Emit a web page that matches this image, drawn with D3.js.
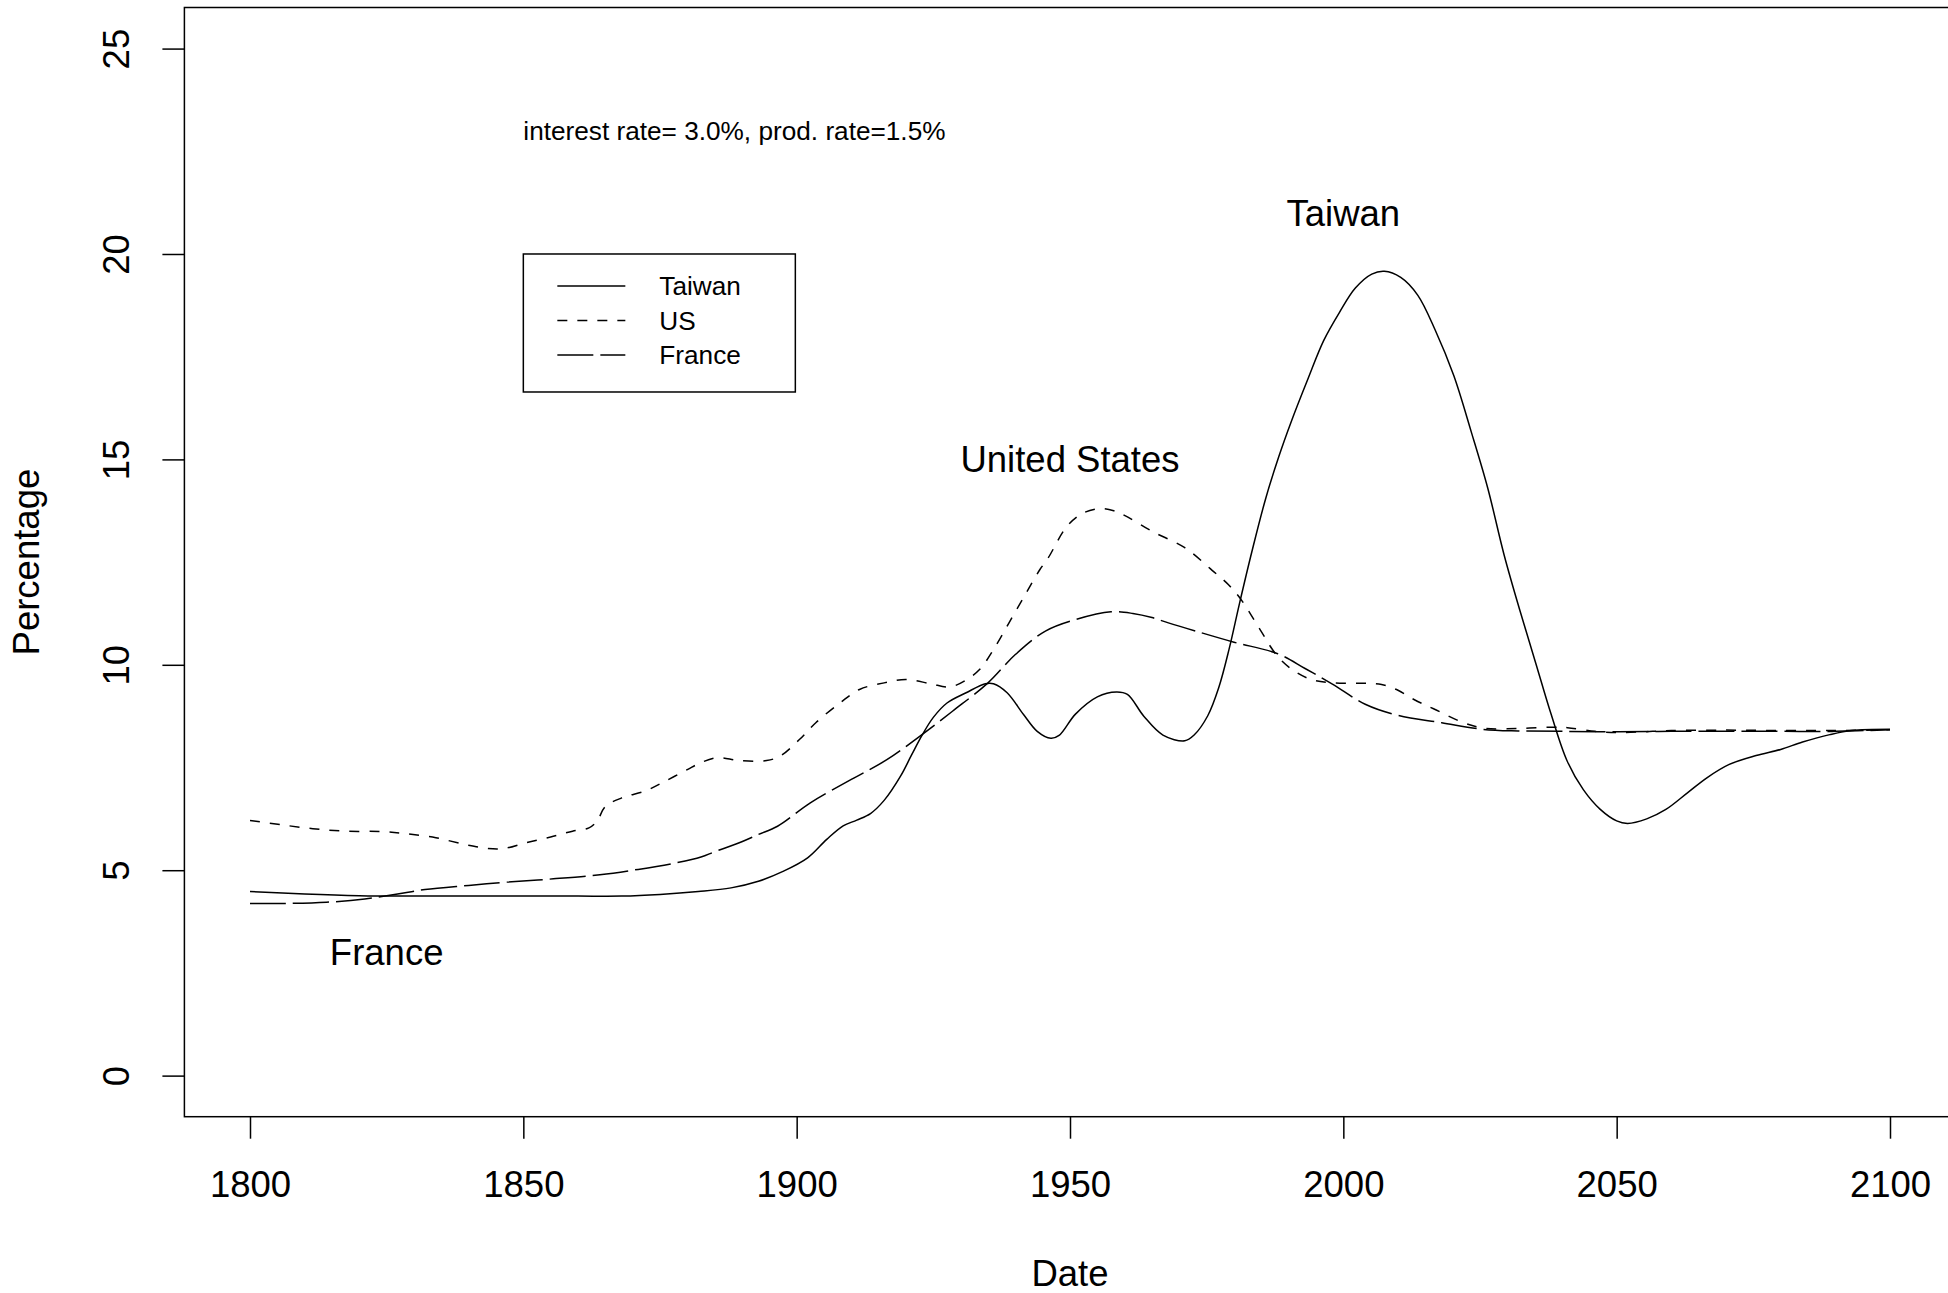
<!DOCTYPE html>
<html>
<head>
<meta charset="utf-8">
<script src="https://cdn.jsdelivr.net/npm/d3@7"></script>
<style>
  body { margin: 0; background: #fff; }
  svg text { font-family: "Liberation Sans", Arial, Helvetica, sans-serif; fill: #000; }
</style>
</head>
<body>
<div id="chart"></div>
<script>
// values
var taiwanYears = [1800, 1810, 1820, 1830, 1840, 1850, 1860, 1868, 1875, 1882, 1888, 1893, 1897.5, 1902, 1905.5, 1908.5, 1911, 1913.5, 1916, 1919, 1921, 1923, 1925, 1927.5, 1931, 1934.5, 1936, 1938.5, 1941.5, 1944, 1946.5, 1948, 1951, 1955, 1958.5, 1960.5, 1963.5, 1967, 1971, 1972.7, 1975.2, 1977.2, 1979.1, 1981, 1983.3, 1985.8, 1988.2, 1990.5, 1993.5, 1996.4, 1999.3, 2002.2, 2005.2, 2007.5, 2010.5, 2013.6, 2016.8, 2020.2, 2023.4, 2026.4, 2029.4, 2032.3, 2035.2, 2038, 2040.9, 2043.9, 2047, 2050, 2052, 2055.5, 2059, 2063, 2066.5, 2070.5, 2075.5, 2080, 2084, 2089, 2093, 2100];
var taiwanVals = [4.48, 4.42, 4.38, 4.37, 4.37, 4.37, 4.37, 4.37, 4.41, 4.48, 4.57, 4.73, 4.97, 5.30, 5.75, 6.08, 6.22, 6.38, 6.70, 7.29, 7.80, 8.30, 8.72, 9.07, 9.32, 9.54, 9.54, 9.32, 8.79, 8.38, 8.21, 8.28, 8.80, 9.22, 9.34, 9.28, 8.75, 8.29, 8.15, 8.29, 8.76, 9.44, 10.38, 11.49, 12.77, 14.05, 15.07, 15.93, 16.95, 17.89, 18.58, 19.17, 19.51, 19.58, 19.43, 19.0, 18.15, 17.04, 15.67, 14.31, 12.68, 11.32, 10.04, 8.80, 7.67, 6.96, 6.48, 6.20, 6.14, 6.25, 6.48, 6.89, 7.25, 7.57, 7.79, 7.94, 8.12, 8.30, 8.40, 8.43];

var usYears = [1800, 1805.5, 1811.5, 1817.5, 1824, 1828.5, 1834, 1839.5, 1843.5, 1846.5, 1850.5, 1855, 1859, 1862, 1863.5, 1865, 1868, 1872.5, 1876, 1880, 1882.5, 1885.5, 1889.5, 1894.5, 1897, 1900.5, 1903.5, 1908, 1911.5, 1916, 1920, 1924.5, 1928, 1931, 1933.5, 1936, 1939, 1942, 1944.5, 1946, 1949.5, 1952.5, 1955.5, 1958, 1960.5, 1965, 1971, 1976, 1979, 1981.5, 1984.8, 1988, 1991, 1994, 1998, 2004, 2007, 2010, 2013, 2016.5, 2022, 2026, 2032, 2038, 2041, 2046, 2050, 2055, 2060, 2070, 2080, 2090, 2100];
var usVals = [6.21, 6.11, 6.01, 5.95, 5.94, 5.89, 5.79, 5.62, 5.53, 5.53, 5.67, 5.81, 5.95, 6.03, 6.20, 6.55, 6.76, 6.94, 7.17, 7.45, 7.62, 7.74, 7.67, 7.67, 7.78, 8.18, 8.59, 9.08, 9.40, 9.56, 9.64, 9.54, 9.46, 9.63, 9.89, 10.37, 11.06, 11.75, 12.32, 12.60, 13.38, 13.70, 13.80, 13.75, 13.60, 13.25, 12.85, 12.30, 11.95, 11.55, 10.85, 10.20, 9.85, 9.65, 9.56, 9.55, 9.52, 9.38, 9.15, 8.93, 8.59, 8.45, 8.45, 8.48, 8.47, 8.38, 8.35, 8.37, 8.40, 8.41, 8.40, 8.40, 8.42];

var franceYears = [1800, 1806, 1814, 1821, 1827, 1832, 1840, 1847, 1855.5, 1864, 1871, 1878, 1882.5, 1885, 1889.5, 1893, 1896.5, 1902.5, 1910, 1916.5, 1922.5, 1928.5, 1935, 1940, 1945.5, 1951, 1957.5, 1961.5, 1965, 1968, 1973, 1980, 1988, 1993, 1998, 2004, 2010, 2018, 2025.5, 2032, 2040, 2050, 2060, 2070, 2080, 2090, 2100];
var franceVals = [4.19, 4.19, 4.22, 4.30, 4.42, 4.53, 4.63, 4.71, 4.79, 4.89, 5.02, 5.18, 5.32, 5.45, 5.67, 5.87, 6.07, 6.64, 7.21, 7.69, 8.26, 8.87, 9.56, 10.25, 10.82, 11.10, 11.29, 11.25, 11.15, 11.02, 10.82, 10.55, 10.27, 9.91, 9.53, 9.04, 8.77, 8.59, 8.43, 8.39, 8.38, 8.37, 8.38, 8.38, 8.38, 8.38, 8.42];

var xTicks = [1800, 1850, 1900, 1950, 2000, 2050, 2100];
var yTicks = [0, 5, 10, 15, 20, 25];
var legendNames = ["Taiwan", "US", "France"];

// country labels put on the chart: [year, value, text]
var labels = [[2000, 21, "Taiwan"], [1950, 15, "United States"], [1825, 3, "France"]];
var noteText = "interest rate= 3.0%, prod. rate=1.5%";

var W = 1948, H = 1293;
var plotL = 184.4, plotR = 1955.6, plotT = 7.5, plotB = 1116.7;
var bigFont = 36.5, smallFont = 26.2;

var svg = d3.select("#chart").append("svg")
  .attr("width", W).attr("height", H);

// R style 4% extension on both axes
var x = d3.scaleLinear().domain([1788, 2112]).range([plotL, plotR]);
var y = d3.scaleLinear().domain([-1, 26]).range([plotB, plotT]);

var dashes = ["none", "10,10", "36,7"];

var series = [
  { name: "Taiwan", years: taiwanYears, vals: taiwanVals, dash: dashes[0] },
  { name: "US", years: usYears, vals: usVals, dash: dashes[1] },
  { name: "France", years: franceYears, vals: franceVals, dash: dashes[2] }
];

var line = d3.line()
  .x(function(d){ return x(d[0]) })
  .y(function(d){ return y(d[1]) })
  .curve(d3.curveCatmullRom.alpha(0.5));

svg.append("g").attr("class", "lines")
  .selectAll("path")
  .data(series)
  .enter()
  .append("path")
  .attr("d", function(s){
    return line(s.years.map(function(yr, i){ return [yr, s.vals[i]] }));
  })
  .attr("fill", "none")
  .attr("stroke", "#000")
  .attr("stroke-width", 1.5)
  .attr("stroke-dasharray", function(s){ return s.dash });

// plot frame
svg.append("rect")
  .attr("x", plotL).attr("y", plotT)
  .attr("width", plotR - plotL).attr("height", plotB - plotT)
  .attr("fill", "none").attr("stroke", "#000").attr("stroke-width", 1.5);

// x axis
var xAxis = svg.append("g")
  .attr("transform", "translate(0," + plotB + ")")
  .call(d3.axisBottom(x).tickValues(xTicks).tickSize(22).tickFormat(d3.format("d")));
xAxis.select(".domain").remove();
xAxis.selectAll(".tick line").attr("stroke-width", 1.5);
xAxis.selectAll(".tick text")
  .attr("y", 80).attr("dy", null)
  .attr("font-size", bigFont)
  .attr("font-family", "Liberation Sans, Arial, sans-serif");

// y axis, labels turned like R's las=0
var yAxis = svg.append("g")
  .attr("transform", "translate(" + plotL + ",0)")
  .call(d3.axisLeft(y).tickValues(yTicks).tickSize(22));
yAxis.select(".domain").remove();
yAxis.selectAll(".tick line").attr("stroke-width", 1.5);
yAxis.selectAll(".tick text")
  .attr("x", null).attr("dy", null)
  .attr("text-anchor", "middle")
  .attr("transform", "translate(-55,0) rotate(-90)")
  .attr("font-size", bigFont)
  .attr("font-family", "Liberation Sans, Arial, sans-serif");

// axis titles
svg.append("text")
  .attr("x", (plotL + plotR) / 2).attr("y", 1286)
  .attr("text-anchor", "middle").attr("font-size", bigFont)
  .text("Date");
svg.append("text")
  .attr("transform", "translate(39," + ((plotT + plotB) / 2) + ") rotate(-90)")
  .attr("text-anchor", "middle").attr("font-size", bigFont)
  .text("Percentage");

// note at the top
svg.append("text")
  .attr("x", x(1850)).attr("y", y(23) + 0.358 * smallFont)
  .attr("font-size", smallFont)
  .text(noteText);

// country labels
svg.append("g").selectAll("text")
  .data(labels)
  .enter()
  .append("text")
  .attr("x", function(d){ return x(d[0]) })
  .attr("y", function(d){ return y(d[1]) + 0.358 * bigFont })
  .attr("text-anchor", "middle")
  .attr("font-size", bigFont)
  .text(function(d){ return d[2] });

// legend
var lgX = x(1850), lgY = y(20);
var lg = svg.append("g").attr("class", "legend");
lg.append("rect")
  .attr("x", lgX).attr("y", lgY)
  .attr("width", 272).attr("height", 138)
  .attr("fill", "#fff").attr("stroke", "#000").attr("stroke-width", 1.5);

var rows = lg.selectAll(".row")
  .data(legendNames)
  .enter()
  .append("g")
  .attr("transform", function(d, i){ return "translate(" + lgX + "," + (lgY + 32 + i * 34.5) + ")" });

rows.append("line")
  .attr("x1", 34).attr("x2", 102)
  .attr("stroke", "#000").attr("stroke-width", 1.5)
  .attr("stroke-dasharray", function(d, i){ return dashes[i] });

rows.append("text")
  .attr("x", 136).attr("y", 0.358 * smallFont)
  .attr("font-size", smallFont)
  .text(function(d){ return d });
</script>
</body>
</html>
